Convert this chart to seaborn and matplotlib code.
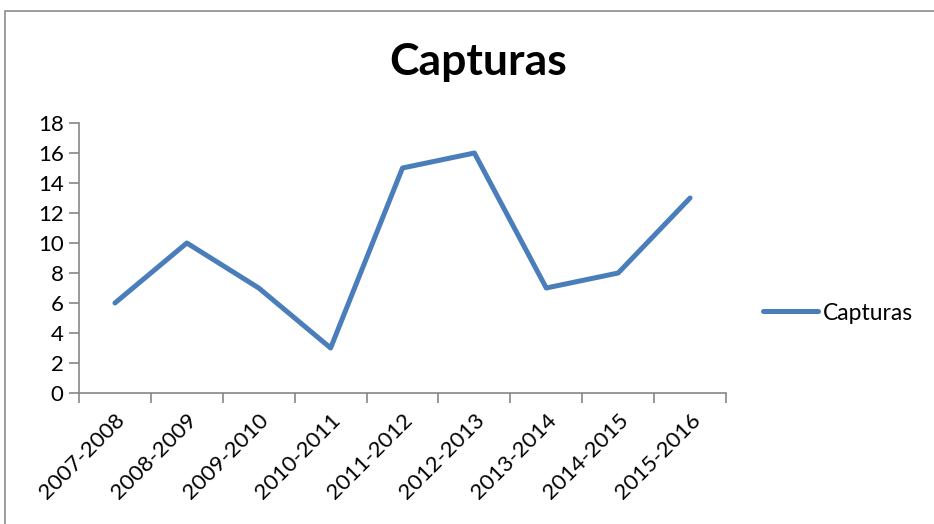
import matplotlib
matplotlib.use("Agg")
import matplotlib.pyplot as plt
import seaborn as sns
import pandas as pd
import numpy as np
from matplotlib.patches import Rectangle

temporadas = ["2007-2008", "2008-2009", "2009-2010", "2010-2011", "2011-2012",
              "2012-2013", "2013-2014", "2014-2015", "2015-2016"]
capturas = [6, 10, 7, 3, 15, 16, 7, 8, 13]
y_ticks = [0, 2, 4, 6, 8, 10, 12, 14, 16, 18]

SPINE_COLOR = "#868686"
LINE_COLOR = "#4A7EBB"

sns.set_style("white")
plt.rcParams["font.family"] = ["Lato", "DejaVu Sans"]
plt.rcParams["text.color"] = "black"
plt.rcParams["xtick.color"] = "black"
plt.rcParams["ytick.color"] = "black"

df = pd.DataFrame({"temporada": temporadas, "Capturas": capturas})

fig = plt.figure(figsize=(9.34, 5.24), dpi=100)
ax = fig.add_axes([79 / 934, 1 - 393 / 524, (726 - 79) / 934, (393 - 123) / 524])

sns.lineplot(data=df, x="temporada", y="Capturas", ax=ax, color=LINE_COLOR,
             linewidth=3.6, sort=False, label="Capturas", solid_capstyle="round")

n = len(temporadas)
ax.set_xlim(-0.5, n - 0.5)
ax.set_ylim(0, 18)
ax.set_yticks(y_ticks)
ax.set_yticklabels([str(v) for v in y_ticks], fontsize=16)

# Excel-style: tick marks between categories, labels at the centres
ax.set_xticks(np.arange(-0.5, n, 1.0))
ax.set_xticklabels([])
ax.set_xticks(np.arange(n), minor=True)
ax.set_xticklabels(temporadas, minor=True, rotation=45, ha="right",
                   rotation_mode="anchor", fontsize=16)
ax.tick_params(axis="x", which="minor", bottom=True, length=0, pad=12, labelcolor="black")
ax.tick_params(axis="x", which="major", bottom=True, length=7, width=1.2,
               color=SPINE_COLOR, direction="out")
ax.tick_params(axis="y", left=True, length=7, width=1.2, color=SPINE_COLOR,
               direction="out", pad=4, labelcolor="black")

ax.set_xlabel("")
ax.set_ylabel("")
sns.despine(ax=ax, top=True, right=True)
ax.spines["left"].set_color(SPINE_COLOR)
ax.spines["bottom"].set_color(SPINE_COLOR)
ax.spines["left"].set_linewidth(1.2)
ax.spines["bottom"].set_linewidth(1.2)

leg = ax.legend(loc="center left", bbox_to_anchor=(742 / 934, 1 - 313 / 524),
                bbox_transform=fig.transFigure, frameon=False, fontsize=16.5,
                handlelength=2.4, handletextpad=0.25)
for t in leg.get_texts():
    t.set_color("black")

fig.text(478 / 934, 1 - 62 / 524, "Capturas", ha="center", va="center",
         fontsize=32, fontweight="bold", color="black")

fig.patches.append(Rectangle((5 / 934, -0.1), 1.2, (1 - 11 / 524) + 0.1,
                             transform=fig.transFigure, fill=False,
                             edgecolor="#8c8c8c", linewidth=1.2))

fig.savefig("out.png", dpi=100)
